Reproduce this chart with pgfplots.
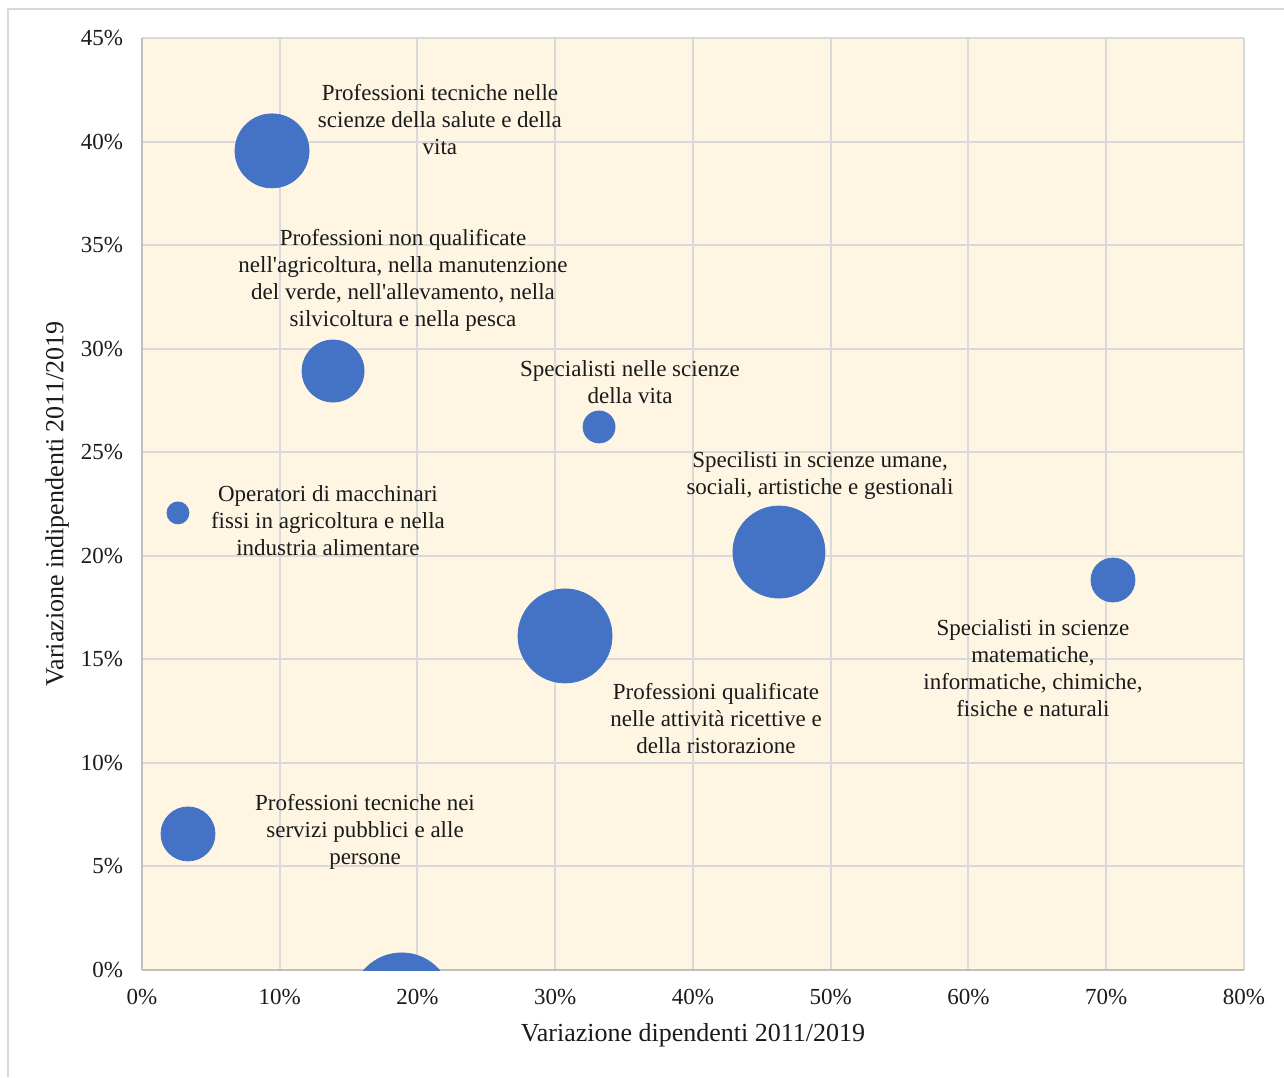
\documentclass[border=0pt]{standalone}
\usepackage{pgfplots}
\pgfplotsset{compat=1.18}
\usepackage{fontspec}
\setmainfont{Liberation Serif}[Ligatures=TeXOff]

\definecolor{cream}{HTML}{FEF6E3}
\definecolor{bubble}{HTML}{4472C4}
\definecolor{gridgray}{HTML}{D9D9D9}
\definecolor{axisgray}{HTML}{BFBFBF}
\definecolor{txt}{HTML}{1A1A1A}

\begin{document}
\begin{tikzpicture}
\path[use as bounding box] (0,0) rectangle (642pt,538.5pt);
% chart area frame (left and top edges only visible)
\draw[gridgray, line width=1pt] (4pt,0) -- (4pt,534pt) -- (642pt,534pt);

\begin{axis}[
  at={(71pt,53.5pt)}, anchor=south west,
  scale only axis, width=551pt, height=466pt,
  xmin=0, xmax=80, ymin=0, ymax=45,
  xtick={0,10,...,80}, ytick={0,5,...,45},
  xticklabel={\pgfmathprintnumber{\tick}\%},
  yticklabel={\pgfmathprintnumber{\tick}\%},
  /pgf/number format/assume math mode=true,
  major tick length=0pt,
  axis background/.style={fill=cream},
  xmajorgrids, ymajorgrids,
  grid style={gridgray, line width=1pt},
  axis x line*=bottom, axis y line*=left,
  axis line style={axisgray, line width=1pt, -},
  tick label style={font=\fontsize{11.5}{13}\selectfont, text=txt},
  xticklabel style={yshift=-6pt},
  yticklabel style={xshift=-6pt},
  xlabel={Variazione dipendenti 2011/2019},
  ylabel={Variazione indipendenti 2011/2019},
  every axis x label/.style={at={(axis description cs:0.5,0)}, anchor=center,
    yshift=-32.5pt, font=\fontsize{13}{15}\selectfont, text=txt},
  every axis y label/.style={at={(axis description cs:0,0.5)}, anchor=center,
    rotate=90, yshift=42.5pt, font=\fontsize{13}{15}\selectfont, text=txt},
  clip=true, clip marker paths=true,
  bubble/.style={scatter, only marks, mark=*, color=bubble,
    scatter/use mapped color={draw=bubble, fill=bubble},
    visualization depends on={\thisrow{r} \as \rad},
    scatter/@pre marker code/.append style={/tikz/mark size=\rad pt}},
]
\addplot[bubble] table {
  x     y      r
  9.44  39.55  18.5
  13.87 28.92  15.5
  33.18 26.22  8
  2.61  22.07  5.5
  46.24 20.18  23
  70.49 18.83  11
  30.71 16.13  23.5
  3.34  6.57   13.5
  };
% bubble whose centre lies below the x axis: anchored on the axis,
% then moved down by its (negative) y value, and clipped by the axis
\addplot[bubble,
  visualization depends on={\thisrow{y}*466/45 \as \dy},
  scatter/@pre marker code/.append style={/tikz/yshift=\dy pt}]
  table[x=x, y expr=0] {
  x     y      r
  18.85 -1.59  25
  };

\tikzset{lbl/.style={align=center, text=txt, font=\fontsize{11.5}{13.5}\selectfont, inner sep=0pt}}
\node[lbl] at (axis cs:21.63,41.04) {Professioni tecniche nelle\\scienze della salute e della\\vita};
\node[lbl] at (axis cs:18.95,33.29) {Professioni non qualificate\\nell'agricoltura, nella manutenzione\\del verde, nell'allevamento, nella\\silvicoltura e nella pesca};
\node[lbl] at (axis cs:35.43,28.37) {Specialisti nelle scienze\\della vita};
\node[lbl] at (axis cs:13.50,21.68) {Operatori di macchinari\\fissi in agricoltura e nella\\industria alimentare};
\node[lbl] at (axis cs:49.22,23.88) {Specilisti in scienze umane,\\sociali, artistiche e gestionali};
\node[lbl] at (axis cs:64.68,14.56) {Specialisti in scienze\\matematiche,\\informatiche, chimiche,\\fisiche e naturali};
\node[lbl] at (axis cs:41.67,12.12) {Professioni qualificate\\nelle attività ricettive e\\della ristorazione};
\node[lbl] at (axis cs:16.19,6.66) {Professioni tecniche nei\\servizi pubblici e alle\\persone};
\end{axis}
\end{tikzpicture}
\end{document}
